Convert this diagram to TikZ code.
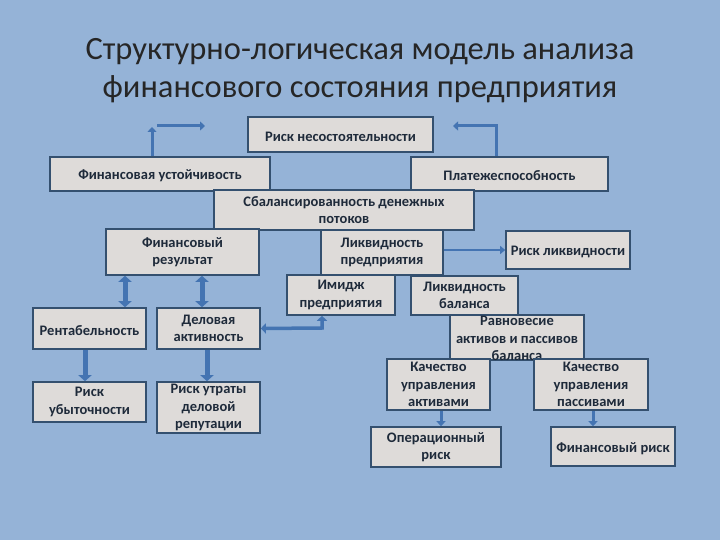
\documentclass[tikz,border=0pt]{standalone}
\usepackage{fontspec}
\setmainfont{Carlito}
\usetikzlibrary{arrows.meta,calc}
\definecolor{bg}{HTML}{95B3D7}
\definecolor{boxfill}{HTML}{DEDBD9}
\definecolor{boxline}{HTML}{34506F}
\definecolor{arrowc}{HTML}{4474B2}
\definecolor{txt}{HTML}{1E2A3A}
\definecolor{titlec}{HTML}{262626}
\tikzset{
  boxfont/.style={font=\fontsize{14.5}{17.5}\selectfont\bfseries},
  box/.style={draw=boxline, line width=1.6pt, fill=boxfill, text=txt, align=center,
    inner sep=1pt, boxfont, execute at begin node={\rule{0pt}{14pt}}},
  fat/.style={draw=arrowc, line width=5pt, -{Triangle[length=6pt,width=13pt]}},
  fatboth/.style={draw=arrowc, line width=5pt, {Triangle[length=6pt,width=13pt]}-{Triangle[length=6pt,width=13pt]}},
  thin/.style={draw=arrowc, line width=2.5pt, -{Triangle[length=5pt,width=8pt]}},
  mid/.style={draw=arrowc, line width=3pt, -{Triangle[length=5pt,width=9pt]}},
}
\begin{document}
\begin{tikzpicture}[x=1pt,y=-1pt]
\fill[bg] (0,0) rectangle (720,540);
\useasboundingbox (0,0) rectangle (720,540);
\node[text=titlec, font=\fontsize{32.5}{38}\selectfont, align=center] (title) at (360,71)
  {Структурно-логическая модель анализа\\финансового состояния предприятия};

\node[box, minimum width=185, minimum height=35] (rn) at (340.5,134.5) {Риск несостоятельности};
\node[box, minimum width=220, minimum height=34] (fu) at (160,174) {Финансовая устойчивость};
\node[box, minimum width=197, minimum height=34] (pl) at (509.5,174) {Платежеспособность};
\node[box, minimum width=260, minimum height=40] (sb) at (344,210) {Сбалансированность денежных\\потоков};
\node[box, minimum width=153, minimum height=46] (fr) at (182.5,252) {Финансовый\\результат};
\node[box, minimum width=122, minimum height=45] (lp) at (382,252.5) {Ликвидность\\предприятия};
\node[box, minimum width=124, minimum height=38] (rl) at (568,250) {Риск ликвидности};
\node[box, minimum width=108, minimum height=40] (im) at (341,295) {Имидж\\предприятия};
\node[box, minimum width=107, minimum height=39] (lb) at (464.5,295.5) {Ликвидность\\баланса};
\node[box, minimum width=134, minimum height=45] (rv) at (517,337.5) {};
\node[text=txt, align=center, boxfont, anchor=north] (rvt) at (517,313)
  {Равновесие\\активов и пассивов\\баланса};
\node[box, minimum width=103, minimum height=51] (ka) at (438.5,384.5) {Качество\\управления\\активами};
\node[box, minimum width=114, minimum height=51] (kp) at (591,384.5) {Качество\\управления\\пассивами};
\node[box, minimum width=130, minimum height=40] (op) at (436,447) {Операционный\\риск};
\node[box, minimum width=124, minimum height=39] (fk) at (613,446.5) {Финансовый риск};
\node[box, minimum width=113, minimum height=41] (re) at (89.5,328.5) {Рентабельность};
\node[box, minimum width=103, minimum height=41] (da) at (208.5,328.5) {Деловая\\активность};
\node[box, minimum width=113, minimum height=40] (ru) at (89.5,402) {Риск\\убыточности};
\node[box, minimum width=103, minimum height=51] (rd) at (208.5,407.5) {Риск утраты\\деловой\\репутации};

% top connectors
\coordinate (tl1) at (152,127);
\coordinate (tl2) at (157,126);
\coordinate (tl3) at (205,126);
\coordinate (tr1) at (496,126);
\coordinate (tr2) at (453,126);
\draw[mid] (152,0 |- fu.north) -- (tl1);
\draw[mid] (tl2) -- (tl3);
\draw[mid] (496,0 |- pl.north) -- (tr1) -- (tr2);

\draw[fatboth] (125,0 |- fr.south) -- (125,0 |- re.north);
\draw[fatboth] (202,0 |- fr.south) -- (202,0 |- da.north);
\draw[fat] (85,0 |- re.south) -- (85,0 |- ru.north);
\draw[fat] (207,0 |- da.south) -- (207,0 |- rd.north);
\coordinate (dk) at (322,328);
\draw[draw=arrowc, line width=3.5pt, {Triangle[length=5pt,width=10pt]}-{Triangle[length=5pt,width=10pt]}] (da.east) -- (dk) -- (322,0 |- im.south);
\draw[thin] (lp.east |- 0,250) -- (rl.west |- 0,250);
\draw[mid] (441,0 |- ka.south) -- (441,0 |- op.north);
\draw[mid] (593,0 |- kp.south) -- (593,0 |- fk.north);
\end{tikzpicture}
\end{document}
